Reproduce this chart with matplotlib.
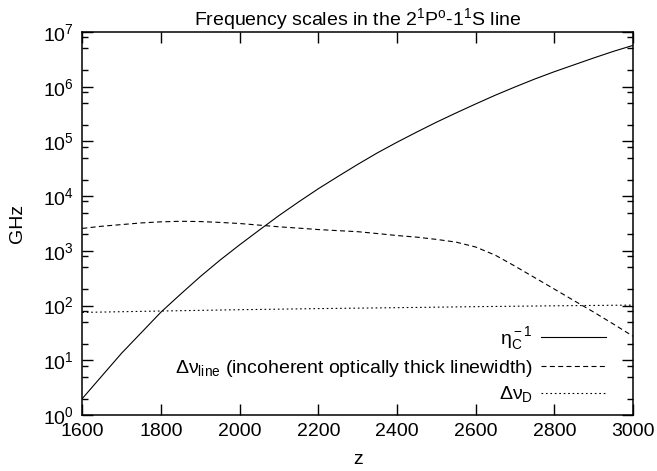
import math
import matplotlib
matplotlib.use('Agg')
import matplotlib.pyplot as plt
from matplotlib.ticker import LogLocator, FixedLocator, NullFormatter, FuncFormatter

plt.rcParams.update({
    'font.family': 'Liberation Sans',
    'font.size': 14,
    'mathtext.fontset': 'custom',
    'mathtext.rm': 'Liberation Sans',
    'mathtext.it': 'Liberation Sans',
    'mathtext.sf': 'Liberation Sans',
    'axes.unicode_minus': False,
})

# values (z, GHz)
z = [1600, 1650, 1700, 1750, 1800, 1850, 1900, 1950, 2000, 2050,
     2100, 2150, 2200, 2250, 2300, 2350, 2400, 2450, 2500, 2550,
     2600, 2650, 2700, 2750, 2800, 2850, 2900, 2950, 3000]
eta_inv = [2.0, 5.2, 13.5, 32, 76, 162, 339, 676, 1290, 2400,
           4420, 7850, 13650, 22900, 38000, 61700, 96600, 148000, 224000, 331000,
           484000, 700000, 989000, 1.38e6, 1.88e6, 2.51e6, 3.35e6, 4.42e6, 5.69e6]
dnu_line = [2570, 2820, 3020, 3240, 3390, 3470, 3430, 3310, 3160, 2950,
            2750, 2600, 2450, 2340, 2240, 2070, 1905, 1780, 1620, 1445,
            1175, 832, 525, 324, 200, 123, 76, 46, 27.5]

z_dop = [1600, 1800, 2000, 2200, 2400, 2600, 2800, 3000]
dnu_dop = [75, 79.5, 84, 88, 91.5, 95.5, 99, 102]

fig = plt.figure(figsize=(6.57, 4.71), dpi=100)
ax = fig.add_axes([0.1253, 0.1189, 0.8382, 0.8132])

ax.plot(z, eta_inv, color='black', lw=0.8, label=r'η$_{\rm C}^{\rm -1}$')
ax.plot(z, dnu_line, color='black', lw=0.8, dashes=(4.5, 3),
        label=r'Δν$_{\rm line}$ (incoherent optically thick linewidth)')
ax.plot(z_dop, dnu_dop, color='black', lw=0.8, dashes=(1.5, 2.5),
        label=r'Δν$_{\rm D}$')

ax.set_yscale('log')
ax.set_xlim(1600, 3000)
ax.set_ylim(1, 1e7)

ax.xaxis.set_major_locator(FixedLocator(range(1600, 3001, 200)))
ax.yaxis.set_major_locator(FixedLocator([10.0 ** k for k in range(8)]))
ax.yaxis.set_minor_locator(LogLocator(base=10, subs=[2, 5, 8], numticks=20))
ax.yaxis.set_minor_formatter(NullFormatter())
ax.yaxis.set_major_formatter(FuncFormatter(
    lambda v, p: r'10$^{\rm %d}$' % round(math.log10(v))))

ax.tick_params(which='both', direction='in', top=True, right=True,
               labelsize=14, width=1.0)
ax.tick_params(which='major', length=8, pad=6)
ax.tick_params(which='minor', length=4)
for s in ax.spines.values():
    s.set_linewidth(1.1)

ax.set_xlabel('z', labelpad=8)
ax.set_ylabel('GHz', labelpad=12)
ax.set_title(r'Frequency scales in the 2$^{\rm 1}$P$^{\rm o}$-1$^{\rm 1}$S line',
             fontsize=14, pad=5)

ax.legend(loc='lower right', bbox_to_anchor=(0.975, -0.008), frameon=False,
          markerfirst=False, handlelength=3.3, handletextpad=0.45,
          labelspacing=0.3, fontsize=14, borderaxespad=0.3)

fig.savefig('out.png', dpi=100)
